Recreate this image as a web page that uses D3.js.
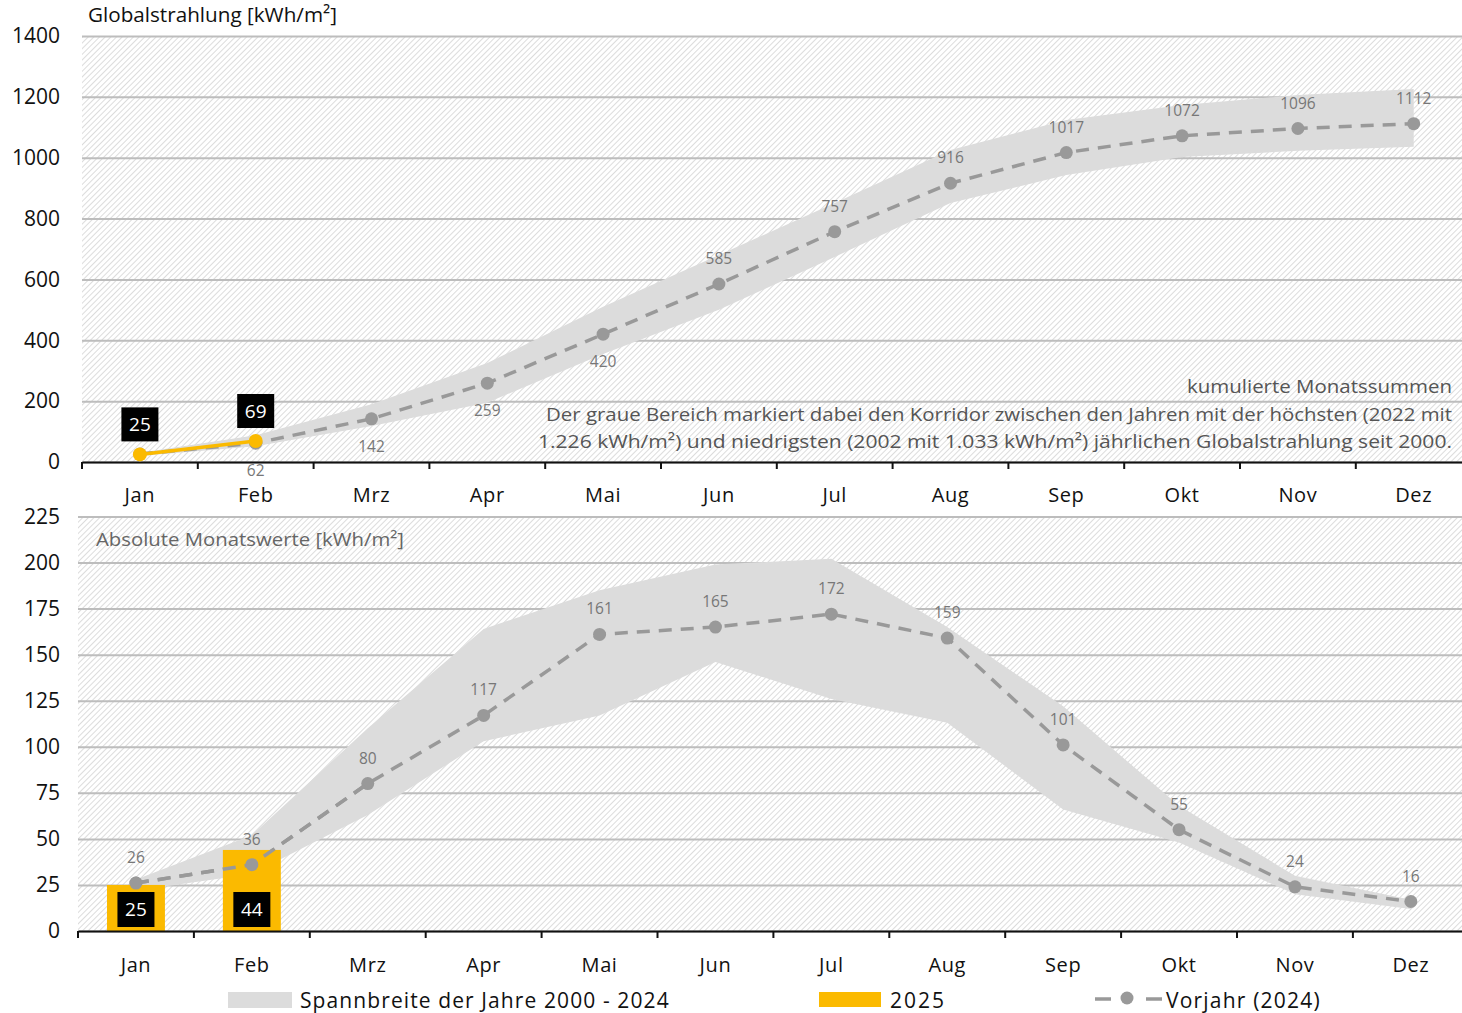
<!DOCTYPE html>
<html><head><meta charset="utf-8">
<script src="https://cdn.jsdelivr.net/npm/d3@7"></script>
<style>
html,body{margin:0;padding:0;background:#fff;}
svg{display:block;font-family:"Open Sans","Noto Sans",sans-serif;}
</style></head>
<body><svg id="c" width="1462" height="1013"></svg>
<script>
// ---- data ----
const months = ["Jan","Feb","Mrz","Apr","Mai","Jun","Jul","Aug","Sep","Okt","Nov","Dez"];
// cumulative (top chart)
const cumVorjahr = [26,62,142,259,420,585,757,916,1017,1072,1096,1112];
const cumMax = [30,88,190,325,510,680,851,1025,1124,1173,1206,1226];
const cumMin = [20,52,118,195,355,500,674,851,943,1002,1023,1036];
const cum2025 = [25,69];
// monthly (bottom chart)
const monVorjahr = [26,36,80,117,161,165,172,159,101,55,24,16];
const monMax = [28,52,110,164,185,199,202,165,122,68,30,17];
const monMin = [22,31,63,103,117,146,126,113,66,48,20,12];
const mon2025 = [25,44];
const topTicks = [0,200,400,600,800,1000,1200,1400];
const botTicks = [0,25,50,75,100,125,150,175,200,225];
const topLabelBelow = [false,true,true,true,true,false,false,false,false,false,false,false];

const ORANGE = "#FBBA00", BAND = "#dcdcdc", DOT = "#999999", GRID = "#bdbdbd";
const svg = d3.select("#c");
const defs = svg.append("defs");
const pat = defs.append("pattern").attr("id","hatch").attr("patternUnits","userSpaceOnUse")
  .attr("width",4).attr("height",4).attr("patternTransform","rotate(45)");
pat.append("rect").attr("width",4).attr("height",4).attr("fill","#fff");
pat.append("line").attr("x1",0).attr("y1",0).attr("x2",0).attr("y2",4).attr("stroke","#d3d3d3").attr("stroke-width",1.6);

function panel(opts){
  const {x0, step, yTop, yBot, dom, ticks} = opts;
  const x = d3.scaleBand().domain(months).range([x0, x0 + step*12]).padding(0);
  const y = d3.scaleLinear().domain(dom).range([yBot, yTop]);
  const cx = m => x(m) + x.bandwidth()/2;
  const g = svg.append("g");
  g.append("rect").attr("x",x0).attr("y",yTop).attr("width",1462-x0).attr("height",yBot-yTop).attr("fill","url(#hatch)");
  const ga = g.append("g").attr("transform",`translate(${x0},0)`)
    .call(d3.axisLeft(y).tickValues(ticks).tickSize(-(1462-x0)).tickFormat(""));
  ga.select(".domain").remove();
  ga.selectAll("line").attr("stroke",GRID).attr("stroke-width",2);
  g.selectAll(".yl").data(ticks).join("text").attr("x",60).attr("y",d=>y(d)).attr("dy","0.35em")
    .attr("text-anchor","end").attr("font-size",21).attr("fill","#111").text(d=>d);
  return {x,y,cx,g};
}

function xAxis(p, yBot, labelY){
  const ax = p.g.append("g").attr("transform",`translate(0,${yBot})`)
    .call(d3.axisBottom(p.x).tickSize(0).tickFormat(""));
  ax.select(".domain").attr("stroke","#111").attr("stroke-width",2);
  const bounds = months.map(m=>p.x(m));
  p.g.selectAll(".tk").data(bounds).join("line").attr("x1",d=>d).attr("x2",d=>d)
    .attr("y1",yBot).attr("y2",yBot+7).attr("stroke","#111").attr("stroke-width",2);
  p.g.selectAll(".ml").data(months).join("text").attr("x",d=>p.cx(d)).attr("y",labelY)
    .attr("text-anchor","middle").attr("font-size",20).attr("fill","#111").attr("letter-spacing",0.6).text(d=>d);
}

function bandAndLine(p, maxA, minA, vals){
  const area = d3.area().x((d,i)=>p.cx(months[i])).y0((d,i)=>p.y(minA[i])).y1(d=>p.y(d));
  p.g.append("path").datum(maxA).attr("d",area).attr("fill",BAND);
  const line = d3.line().x((d,i)=>p.cx(months[i])).y(d=>p.y(d));
  p.g.append("path").datum(vals).attr("d",line).attr("fill","none").attr("stroke",DOT)
    .attr("stroke-width",3.5).attr("stroke-dasharray","13,9");
  p.g.selectAll(".dot").data(vals).join("circle").attr("cx",(d,i)=>p.cx(months[i])).attr("cy",d=>p.y(d))
    .attr("r",6.5).attr("fill",DOT);
}

// ---- top chart ----
const T = panel({x0:82, step:115.8, yTop:36, yBot:462, dom:[0,1400], ticks:topTicks});
bandAndLine(T, cumMax, cumMin, cumVorjahr);
T.g.selectAll(".vl").data(cumVorjahr).join("text")
  .filter((d,i)=>i>0)
  .attr("x",(d,i)=>T.cx(months[i+1])).attr("y",(d,i)=>T.y(d)+(topLabelBelow[i+1]?33:-20))
  .attr("text-anchor","middle").attr("font-size",15.5).attr("fill","#777").text(d=>d);
xAxis(T, 462, 502);
T.g.append("path").datum(cum2025).attr("d",d3.line().x((d,i)=>T.cx(months[i])).y(d=>T.y(d)))
  .attr("fill","none").attr("stroke",ORANGE).attr("stroke-width",3.5);
T.g.selectAll(".od").data(cum2025).join("circle").attr("cx",(d,i)=>T.cx(months[i])).attr("cy",d=>T.y(d))
  .attr("r",7).attr("fill",ORANGE);
cum2025.forEach((d,i)=>{
  const cx=T.cx(months[i]), cy=T.y(d);
  T.g.append("rect").attr("x",cx-18.5).attr("y",cy-47).attr("width",37).attr("height",34).attr("fill","#000");
  T.g.append("text").attr("x",cx).attr("y",cy-30).attr("dy","0.35em").attr("text-anchor","middle")
    .attr("font-size",19).attr("fill","#fff").text(d);
});
svg.append("text").attr("x",88).attr("y",22).attr("font-size",20).attr("fill","#111")
  .attr("textLength",249).attr("lengthAdjust","spacingAndGlyphs").text("Globalstrahlung [kWh/m²]");
svg.append("text").attr("x",1452).attr("y",393).attr("text-anchor","end").attr("font-size",19).attr("fill","#555")
  .attr("textLength",265).attr("lengthAdjust","spacingAndGlyphs").text("kumulierte Monatssummen");
svg.append("text").attr("x",1452).attr("y",421).attr("text-anchor","end").attr("font-size",19).attr("fill","#555")
  .attr("textLength",906).attr("lengthAdjust","spacingAndGlyphs").text("Der graue Bereich markiert dabei den Korridor zwischen den Jahren mit der höchsten (2022 mit");
svg.append("text").attr("x",1452).attr("y",448).attr("text-anchor","end").attr("font-size",19).attr("fill","#555")
  .attr("textLength",914).attr("lengthAdjust","spacingAndGlyphs").text("1.226 kWh/m²) und niedrigsten (2002 mit 1.033 kWh/m²) jährlichen Globalstrahlung seit 2000.");

// ---- bottom chart ----
const B = panel({x0:78, step:115.9, yTop:516.5, yBot:931, dom:[0,225], ticks:botTicks});
bandAndLine(B, monMax, monMin, monVorjahr);
B.g.selectAll(".vl").data(monVorjahr).join("text")
  .attr("x",(d,i)=>B.cx(months[i])).attr("y",d=>B.y(d)-20)
  .attr("text-anchor","middle").attr("font-size",15.5).attr("fill","#777").text(d=>d);
const bw = B.x.bandwidth()*0.5;
B.g.selectAll(".bar").data(mon2025).join("rect").attr("x",(d,i)=>B.cx(months[i])-bw/2).attr("width",bw)
  .attr("y",d=>B.y(d)).attr("height",d=>B.y(0)-B.y(d)).attr("fill",ORANGE);
B.g.append("path").datum(monVorjahr.slice(0,3)).attr("d",d3.line().x((d,i)=>B.cx(months[i])).y(d=>B.y(d)))
  .attr("fill","none").attr("stroke",DOT).attr("stroke-width",3.5).attr("stroke-dasharray","13,9");
B.g.selectAll(".dot2").data(monVorjahr.slice(0,2)).join("circle").attr("cx",(d,i)=>B.cx(months[i])).attr("cy",d=>B.y(d))
  .attr("r",6.5).attr("fill",DOT);
mon2025.forEach((d,i)=>{
  const cx=B.cx(months[i]);
  B.g.append("rect").attr("x",cx-18.5).attr("y",B.y(0)-39).attr("width",37).attr("height",35).attr("fill","#000");
  B.g.append("text").attr("x",cx).attr("y",B.y(0)-21.5).attr("dy","0.35em").attr("text-anchor","middle")
    .attr("font-size",19).attr("fill","#fff").text(d);
});
xAxis(B, 931, 972);
svg.append("text").attr("x",96).attr("y",546).attr("font-size",19).attr("fill","#666")
  .attr("textLength",308).attr("lengthAdjust","spacingAndGlyphs").text("Absolute Monatswerte [kWh/m²]");

// ---- legend ----
const L = svg.append("g");
L.append("rect").attr("x",228).attr("y",992).attr("width",64).attr("height",16).attr("fill",BAND);
L.append("text").attr("x",300).attr("y",1008).attr("font-size",21).attr("fill","#111").attr("letter-spacing",1.1)
  .text("Spannbreite der Jahre 2000 - 2024");
L.append("rect").attr("x",819).attr("y",992).attr("width",62).attr("height",15).attr("fill",ORANGE);
L.append("text").attr("x",890).attr("y",1008).attr("font-size",21).attr("fill","#111").attr("letter-spacing",2).text("2025");
L.append("line").attr("x1",1095).attr("x2",1111).attr("y1",999).attr("y2",999).attr("stroke",DOT).attr("stroke-width",3.5);
L.append("circle").attr("cx",1127).attr("cy",998).attr("r",6.5).attr("fill",DOT);
L.append("line").attr("x1",1146).attr("x2",1162).attr("y1",999).attr("y2",999).attr("stroke",DOT).attr("stroke-width",3.5);
L.append("text").attr("x",1166).attr("y",1008).attr("font-size",21).attr("fill","#111").attr("letter-spacing",1.2).text("Vorjahr (2024)");
</script></body></html>
